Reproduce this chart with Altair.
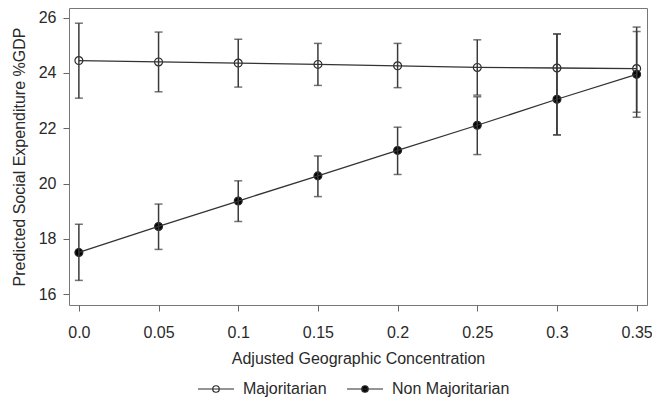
import altair as alt
import pandas as pd

# Values
x_vals = [0.0, 0.05, 0.1, 0.15, 0.2, 0.25, 0.3, 0.35]
series_names = ["Majoritarian", "Non Majoritarian"]

maj_mean = [24.45, 24.40, 24.36, 24.31, 24.26, 24.20, 24.18, 24.16]
maj_low = [23.09, 23.32, 23.49, 23.55, 23.47, 23.20, 21.76, 22.58]
maj_high = [25.80, 25.48, 25.22, 25.07, 25.07, 25.20, 25.41, 25.66]

non_mean = [17.51, 18.45, 19.37, 20.28, 21.20, 22.11, 23.05, 23.95]
non_low = [16.50, 17.62, 18.63, 19.53, 20.33, 21.05, 21.76, 22.40]
non_high = [18.53, 19.26, 20.10, 21.00, 22.04, 23.14, 25.41, 25.50]

x_ticks = [0.0, 0.05, 0.1, 0.15, 0.2, 0.25, 0.3, 0.35]
y_ticks = [16, 18, 20, 22, 24, 26]

rows = []
for name, m, lo, hi in [
    (series_names[0], maj_mean, maj_low, maj_high),
    (series_names[1], non_mean, non_low, non_high),
]:
    for xv, a, b, c in zip(x_vals, m, lo, hi):
        rows.append({"x": xv, "series": name, "y": a, "lo": b, "hi": c})
df = pd.DataFrame(rows)

FONT = "Liberation Sans"
INK = "#2a2a2a"

x_enc = alt.X(
    "x:Q",
    scale=alt.Scale(domain=[-0.0062, 0.3565], nice=False, zero=False),
    axis=alt.Axis(
        title="Adjusted Geographic Concentration",
        values=x_ticks,
        labelExpr="datum.value == 0 ? '0.0' : toString(round(datum.value * 100) / 100)",
        labelPadding=13,
        titlePadding=10,
    ),
)
y_scale = alt.Scale(domain=[15.61, 26.35], nice=False, zero=False)
y_axis = alt.Axis(
    title="Predicted Social Expenditure %GDP",
    values=y_ticks,
    labelPadding=7,
    titlePadding=11,
)

legend_path = (
    "M-1,0H1"
    "M0.18,0A0.18,0.18,0,1,1,-0.18,0A0.18,0.18,0,1,1,0.18,0Z"
)

base = alt.Chart(df)

points = base.mark_point(filled=True, size=62, stroke=INK, strokeWidth=1.2, opacity=1).encode(
    x=x_enc,
    y=alt.Y("y:Q", scale=y_scale, axis=y_axis),
    fill=alt.Fill(
        "series:N",
        scale=alt.Scale(domain=series_names, range=["white", "black"]),
        legend=alt.Legend(
            title=None,
            orient="none",
            direction="horizontal",
            legendX=128,
            legendY=362,
            symbolType=legend_path,
            symbolSize=1296,
            symbolStrokeWidth=1.2,
            symbolStrokeColor=INK,
            labelFont=FONT,
            labelFontSize=16,
            labelColor=INK,
            labelOffset=8,
            columnPadding=17,
            padding=0,
        ),
    ),
)

line = base.mark_line(color="#333333", strokeWidth=1.3).encode(
    x=x_enc,
    y=alt.Y("y:Q", scale=y_scale),
    detail="series:N",
)

rules = base.mark_rule(color="#3a3a3a", strokeWidth=1.5).encode(
    x=x_enc,
    y=alt.Y("lo:Q", scale=y_scale),
    y2="hi:Q",
)

caps_lo = base.mark_tick(orient="horizontal", size=8, thickness=1.5, color="#3a3a3a").encode(
    x=x_enc,
    y=alt.Y("lo:Q", scale=y_scale),
)
caps_hi = base.mark_tick(orient="horizontal", size=8, thickness=1.5, color="#3a3a3a").encode(
    x=x_enc,
    y=alt.Y("hi:Q", scale=y_scale),
)

chart = (
    alt.layer(points, rules, caps_lo, caps_hi, line)
    .properties(
        width=578,
        height=297,
        autosize=alt.AutoSizeParams(type="none"),
        padding={"left": 61, "top": 0, "right": 5, "bottom": 92},
    )
    .configure_view(stroke="#777777", strokeWidth=1, fill="white")
    .configure_axis(
        grid=False,
        domain=False,
        tickColor="#666666",
        tickSize=6,
        tickWidth=1,
        labelFont=FONT,
        labelFontSize=16,
        labelColor=INK,
        titleFont=FONT,
        titleFontSize=16,
        titleFontWeight="normal",
        titleColor=INK,
    )
)

chart.save("out.html", embed_options={"renderer": "svg", "actions": False})
